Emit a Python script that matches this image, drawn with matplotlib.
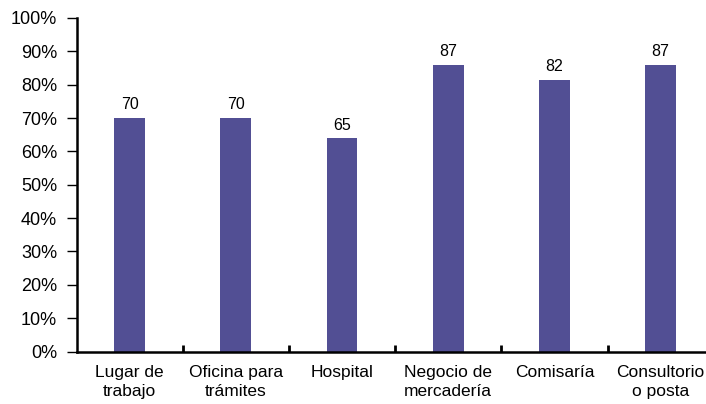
import matplotlib
matplotlib.use("Agg")
import matplotlib.pyplot as plt
import numpy as np

categories = ["Lugar de\ntrabajo", "Oficina para\ntrámites", "Hospital",
              "Negocio de\nmercadería", "Comisaría", "Consultorio\no posta"]
heights = [70, 70, 64, 86, 81.5, 86]
labels = ["70", "70", "65", "87", "82", "87"]
yticks = np.arange(0, 101, 10)

plt.rcParams['font.family'] = ['Liberation Sans', 'DejaVu Sans']

fig = plt.figure(figsize=(7.06, 4.04), dpi=100)
W, H = 706, 404
left, right, bottom, top = 76.5, 713.7, 351.5, 18
ax = fig.add_axes([left / W, (H - bottom) / H, (right - left) / W, (bottom - top) / H])

x = np.arange(len(categories))
bars = ax.bar(x, heights, width=0.29, color="#524F94", zorder=2)

for bar, lab in zip(bars, labels):
    ax.annotate(lab, (bar.get_x() + bar.get_width() / 2, bar.get_height()),
                xytext=(0, 4), textcoords="offset points",
                ha="center", va="bottom", fontsize=11.5)

ax.set_xlim(-0.5, len(categories) - 0.5)
ax.set_ylim(0, 100)
ax.set_yticks(yticks)
ax.set_yticklabels([f"{v}%" for v in yticks], fontsize=13)

# category names centred, tick marks on the boundaries
ax.set_xticks(x)
ax.set_xticklabels(categories, fontsize=12.5, linespacing=1.35)
ax.tick_params(axis="x", which="major", length=0, pad=9.5)
ax.set_xticks(np.arange(0.5, len(categories) - 0.5, 1), minor=True)
ax.tick_params(axis="x", which="minor", direction="in", length=5, width=2, color="black")
ax.tick_params(axis="y", direction="out", length=7, width=1, pad=7, color="black")

for s in ["top", "right"]:
    ax.spines[s].set_visible(False)
for s in ["left", "bottom"]:
    ax.spines[s].set_linewidth(1.8)

plt.savefig("out.png", dpi=100)
plt.close()
